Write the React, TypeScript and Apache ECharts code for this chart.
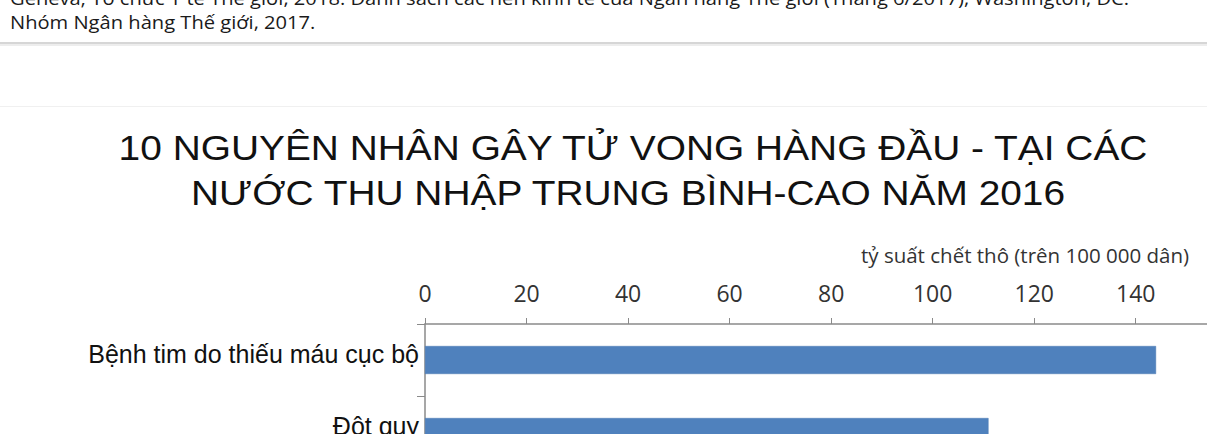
import React, { useEffect, useRef } from "react";
import * as echarts from "echarts";

const titleLines = [
  "10 NGUYÊN NHÂN GÂY TỬ VONG HÀNG ĐẦU - TẠI CÁC",
  "NƯỚC THU NHẬP TRUNG BÌNH-CAO NĂM 2016",
];
const sourceLines = [
  "Geneva; Tổ chức Y tế Thế giới, 2018. Danh sách các nền kinh tế của Ngân hàng Thế giới (Tháng 6/2017), Washington, DC:",
  "Nhóm Ngân hàng Thế giới, 2017.",
];
const axisName = "tỷ suất chết thô (trên 100 000 dân)";
const causes = ["Bệnh tim do thiếu máu cục bộ", "Đột quỵ"];
const rates = [144, 111];
const xMin = 0;
const xMax = 160;
const xStep = 20;

export default function App() {
  const ref = useRef<HTMLDivElement>(null);
  useEffect(() => {
    document.documentElement.style.overflow = "hidden";
    document.body.style.overflow = "hidden";
    document.body.style.margin = "0";
    const chart = echarts.init(ref.current!, undefined, { renderer: "svg" });
    chart.setOption({
      animation: false,
      backgroundColor: "#ffffff",
      graphic: [
        {
          type: "text",
          x: 10,
          y: 7,
          scaleX: 1.06,
          style: {
            text: sourceLines[0],
            fontFamily: "Open Sans",
            fontSize: 19,
            fill: "#1a1a1a",
            verticalAlign: "bottom",
          },
        },
        {
          type: "text",
          x: 10,
          y: 31,
          scaleX: 1.06,
          style: {
            text: sourceLines[1],
            fontFamily: "Open Sans",
            fontSize: 19,
            fill: "#1a1a1a",
            verticalAlign: "bottom",
          },
        },
        { type: "rect", shape: { x: 0, y: 42, width: 1260, height: 2 }, style: { fill: "#d6d6d6" } },
        { type: "rect", shape: { x: 0, y: 44, width: 1260, height: 2 }, style: { fill: "#ededed" } },
        { type: "rect", shape: { x: 0, y: 106, width: 1260, height: 1 }, style: { fill: "#f0f0f0" } },
        {
          type: "text",
          x: 633,
          y: 148,
          scaleX: 1.08,
          style: {
            text: titleLines[0],
            fontFamily: "Liberation Sans",
            fontSize: 36,
            fill: "#111",
            align: "center",
            verticalAlign: "middle",
          },
        },
        {
          type: "text",
          x: 628,
          y: 193,
          scaleX: 1.08,
          style: {
            text: titleLines[1],
            fontFamily: "Liberation Sans",
            fontSize: 36,
            fill: "#111",
            align: "center",
            verticalAlign: "middle",
          },
        },
        {
          type: "text",
          x: 1189,
          y: 255,
          style: {
            text: axisName,
            fontFamily: "Open Sans",
            fontSize: 20.5,
            fill: "#333",
            align: "right",
            verticalAlign: "middle",
          },
        },
      ],
      grid: { left: 425, top: 324, width: 824, height: 144 },
      xAxis: {
        type: "value",
        position: "top",
        min: xMin,
        max: xMax,
        interval: xStep,
        axisLine: { show: true, lineStyle: { color: "#8a8a8a", width: 1.5 } },
        axisTick: { show: true, length: 6, lineStyle: { color: "#8a8a8a" } },
        axisLabel: { fontFamily: "Open Sans", fontSize: 23, color: "#333", margin: 20 },
        splitLine: { show: false },
      },
      yAxis: {
        type: "category",
        inverse: true,
        data: causes,
        axisLine: { show: true, lineStyle: { color: "#8a8a8a", width: 1.5 } },
        axisTick: { show: true, length: 8, lineStyle: { color: "#8a8a8a" } },
        axisLabel: {
          fontFamily: "Liberation Sans",
          fontSize: 25,
          color: "#111",
          margin: 6,
          verticalAlign: "bottom",
          lineHeight: 12,
        },
      },
      series: [
        {
          type: "bar",
          data: rates,
          barWidth: 28,
          itemStyle: { color: "#4f81bd", borderColor: "#4a79b2", borderWidth: 0.5 },
        },
      ],
    });
    return () => chart.dispose();
  }, []);
  return (
    <div
      ref={ref}
      style={{ position: "absolute", left: 0, top: 0, width: 1260, height: 520 }}
    />
  );
}
